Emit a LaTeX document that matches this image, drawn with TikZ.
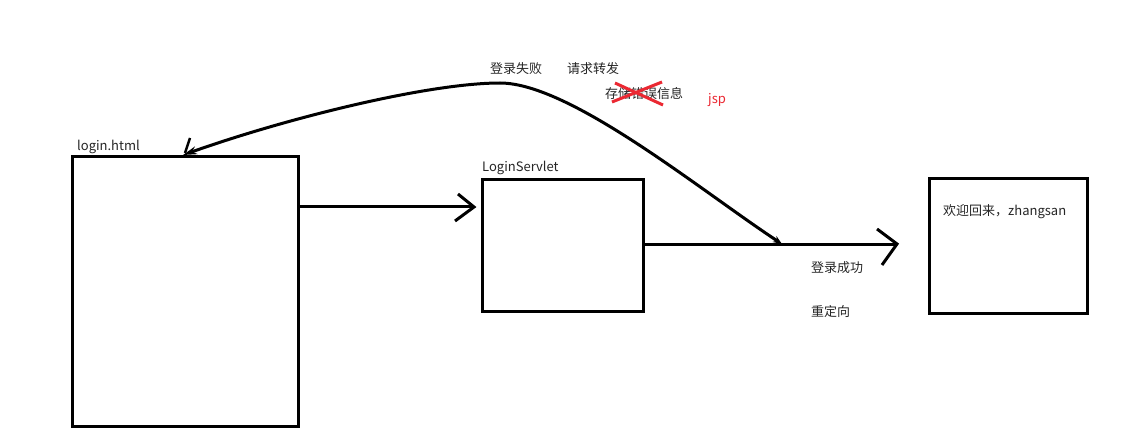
\documentclass[tikz,border=0pt]{standalone}
\usepackage{fontspec}
\setmainfont{Noto Sans CJK SC}
\usetikzlibrary{arrows.meta}
\definecolor{crossred}{RGB}{235,40,50}
\tikzset{
  box/.style={draw=black, line width=3pt, minimum width=#1, inner sep=0pt},
  conn/.style={draw=black, line width=3pt},
  lbl/.style={font=\fontsize{13}{15}\selectfont, inner sep=0pt, anchor=west, text=black!85},
  redlbl/.style={lbl, text=crossred},
  cross/.style={draw=crossred, line width=3pt},
}
\begin{document}
\begin{tikzpicture}[x=1pt, y=-1pt]
\useasboundingbox[fill=white] (0,0) rectangle (1128,441);
% boxes
\node[box=226pt, minimum height=269pt] (login) at (185,291.5) {};
\node[box=161pt, minimum height=131pt] (servlet) at (562.5,245.5) {};
\node[box=158pt, minimum height=134pt] (welcome) at (1008,246) {};
% labels
\node[lbl] (loginlbl) at (77,147) {login.html};
\node[lbl] (servletlbl) at (482,168) {LoginServlet};
\node[lbl] (welcomelbl) at (943,212) {欢迎回来，zhangsan};
\node[lbl] (fail) at (490,69) {登录失败};
\node[lbl] (fwd) at (567,69) {请求转发};
\node[lbl] (store) at (605,94) {存储错误信息};
\node[redlbl] (jsp) at (708,100) {jsp};
\node[lbl] (succ) at (811,268) {登录成功};
\node[lbl] (redir) at (811,312) {重定向};
% login -> servlet
\coordinate (t1) at (474,207);
\draw[conn] (t1 -| login.east) -- (t1);
\draw[conn, line join=miter] ([shift={(-16,-13)}]t1) -- (t1) -- ([shift={(-19,14)}]t1);
% servlet -> welcome
\coordinate (t2) at (897,244);
\draw[conn] (t2 -| servlet.east) -- (t2);
\draw[conn, line join=miter] ([shift={(-20,-15)}]t2) -- (t2) -- ([shift={(-15,21)}]t2);
% failure curve back to login
\coordinate (cs) at (782,244);
\coordinate (ce) at (183,155);
\draw[conn, {Stealth[length=9pt,width=7pt]}-{Stealth[length=14pt,width=8pt]}]
  (cs) .. controls (700,190) and (570,83) .. (500,83)
       .. controls (430,83) and (290,117) .. (ce);
\draw[black, line width=2.5pt] (ce) ++(2,-2) -- ++(5,-15);
% red cross over text
\draw[cross] (615,83) -- (663,105);
\draw[cross] (612,102) -- (662,82);
\end{tikzpicture}
\end{document}
